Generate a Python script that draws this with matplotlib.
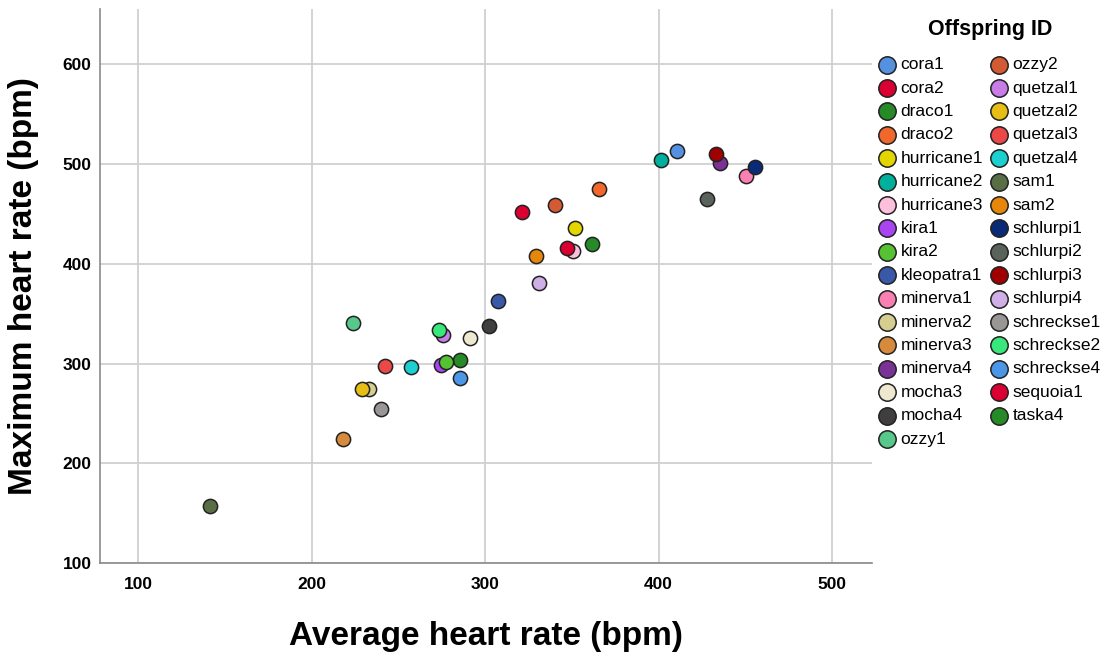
import matplotlib
matplotlib.use("Agg")
import matplotlib.pyplot as plt

plt.rcParams['font.family'] = ['Liberation Sans', 'DejaVu Sans']

# Offspring IDs in legend order
names = ['cora1', 'cora2', 'draco1', 'draco2', 'hurricane1', 'hurricane2', 'hurricane3',
         'kira1', 'kira2', 'kleopatra1', 'minerva1', 'minerva2', 'minerva3', 'minerva4',
         'mocha3', 'mocha4', 'ozzy1', 'ozzy2', 'quetzal1', 'quetzal2', 'quetzal3',
         'quetzal4', 'sam1', 'sam2', 'schlurpi1', 'schlurpi2', 'schlurpi3', 'schlurpi4',
         'schreckse1', 'schreckse2', 'schreckse4', 'sequoia1', 'taska4']

avg_hr = [410.9, 321.5, 285.3, 365.5, 351.7, 401.7, 350.6,
          274.7, 277.2, 307.4, 450.7, 233.3, 217.9, 435.7,
          291.2, 302.2, 224.1, 340.5, 275.6, 229.1, 242.2,
          257.2, 141.6, 329.3, 455.9, 427.7, 432.9, 331.2,
          240.1, 273.2, 285.3, 347.4, 361.5]

max_hr = [512.5, 451.6, 303.6, 474.6, 435.3, 504.2, 412.4,
          298.9, 301.9, 362.8, 488.2, 274.6, 224.1, 500.5,
          325.5, 337.8, 340.5, 458.3, 328.8, 274.6, 297.6,
          296.6, 156.9, 407.7, 496.5, 464.3, 509.9, 380.7,
          254.7, 333.5, 285.6, 415.7, 419.7]

colors = ['#5591e0', '#dc0032', '#268a26', '#f2682c', '#e3d600', '#00b09c', '#fcc0dc',
          '#a845f0', '#55c234', '#3a58a8', '#fa80b4', '#d6cd90', '#d58a3c', '#7a3296',
          '#efe8d0', '#3f3f3f', '#55c88a', '#d45a34', '#c87ce6', '#e6be16', '#ec4848',
          '#1ccfd0', '#5a6e46', '#e6860a', '#0a2a78', '#5a625c', '#a00000', '#d0aee6',
          '#9a9696', '#38e87a', '#4c96e8', '#dc0032', '#268a26']

x_ticks = [100, 200, 300, 400, 500]
y_ticks = [100, 200, 300, 400, 500, 600]

fig = plt.figure(figsize=(11.12, 6.54), dpi=100)
ax = fig.add_axes([0.0899, 0.1387, 0.784 - 0.0899, 0.9862 - 0.1387])

for n, xv, yv, c in zip(names, avg_hr, max_hr, colors):
    ax.scatter(xv, yv, s=105, c=c, edgecolors='#222222', linewidths=1.1,
               label=n, zorder=3)

ax.set_xlim(77.9, 523)
ax.set_ylim(100, 655)
ax.set_xticks(x_ticks)
ax.set_yticks(y_ticks)
ax.grid(True, color='#d0d0d0', linewidth=1.3, zorder=0)
ax.set_axisbelow(True)
ax.tick_params(length=0, labelsize=12.5)
ax.tick_params(axis='x', pad=10)
ax.tick_params(axis='y', pad=6)
for lab in ax.get_xticklabels() + ax.get_yticklabels():
    lab.set_fontweight('bold')

for side in ['top', 'right']:
    ax.spines[side].set_visible(False)
for side in ['left', 'bottom']:
    ax.spines[side].set_color('#8a8a8a')
    ax.spines[side].set_linewidth(1.2)

ax.set_xlabel('Average heart rate (bpm)', fontsize=24, fontweight='bold', labelpad=21)
ax.set_ylabel('Maximum heart rate (bpm)', fontsize=24, fontweight='bold', labelpad=17)

leg = ax.legend(loc='upper left', bbox_to_anchor=(888 / 1112 - 0.0105, 1 - 57 / 654),
                bbox_transform=fig.transFigure, ncol=2, frameon=False,
                fontsize=12.5, markerscale=1.22,
                handletextpad=0.2, columnspacing=0.3, labelspacing=0.475,
                borderaxespad=0, borderpad=0, handlelength=1.2)
fig.text(990 / 1112, 1 - 30 / 654, 'Offspring ID', fontsize=15.5, fontweight='bold',
         ha='center', va='center')

fig.savefig('out.png', dpi=100, facecolor='white')
